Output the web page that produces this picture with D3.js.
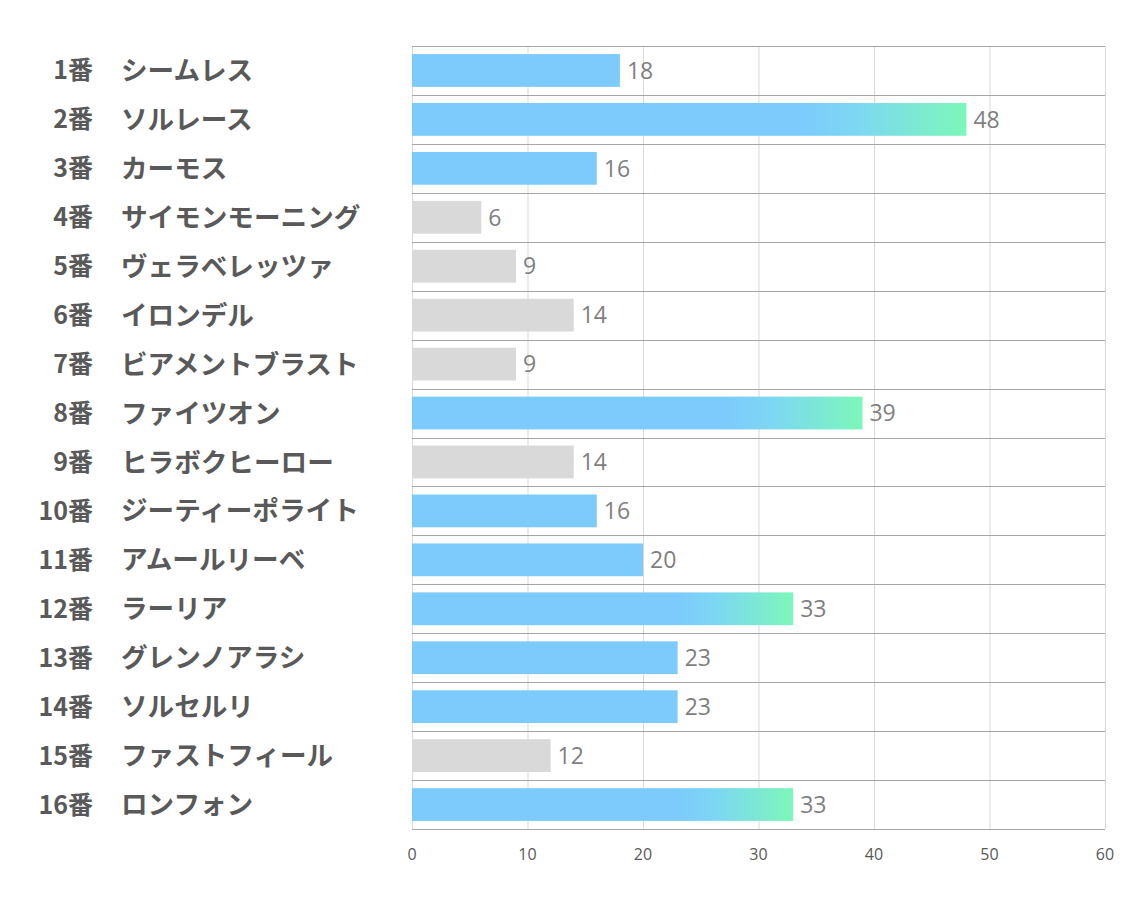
<!DOCTYPE html>
<html>
<head>
  <meta charset="utf-8">
  <script src="https://cdn.jsdelivr.net/npm/d3@7"></script>
  <style>
    body { margin: 0; background: #fff; }
  </style>
</head>
<body>
  <svg width="1134" height="907" id="mainsvg"></svg>
  <script>
    const numbers = ['1番', '2番', '3番', '4番', '5番', '6番', '7番', '8番', '9番', '10番', '11番', '12番', '13番', '14番', '15番', '16番'];
    const horses = ['シームレス', 'ソルレース', 'カーモス', 'サイモンモーニング', 'ヴェラベレッツァ', 'イロンデル', 'ビアメントブラスト', 'ファイツオン', 'ヒラボクヒーロー', 'ジーティーポライト', 'アムールリーベ', 'ラーリア', 'グレンノアラシ', 'ソルセルリ', 'ファストフィール', 'ロンフォン'];
    const values = [18, 48, 16, 6, 9, 14, 9, 39, 14, 16, 20, 33, 23, 23, 12, 33];
    const ticks = [0, 10, 20, 30, 40, 50, 60];

    const svg = d3.select('svg');
    const margin = {top: 46, right: 29, bottom: 78, left: 412};
    const width = +svg.attr('width');
    const height = +svg.attr('height');
    const innerWidth = width - margin.left - margin.right;
    const innerHeight = height - margin.top - margin.bottom;

    const data = numbers.map((n, i) => ({num: n, name: horses[i], value: values[i]}));

    const x = d3.scaleLinear().domain([0, 60]).range([0, innerWidth]);
    const y = d3.scaleBand().domain(numbers).range([0, innerHeight]).paddingInner(0.33).paddingOuter(0.165);
    const step = y.step();

    const defs = svg.append('defs');
    const grad = defs.append('linearGradient').attr('id', 'grad')
      .attr('x1', '0%').attr('x2', '100%').attr('y1', '0%').attr('y2', '0%');
    grad.append('stop').attr('offset', '0%').attr('stop-color', '#7ccbfc');
    grad.append('stop').attr('offset', '70%').attr('stop-color', '#7ccbfc');
    grad.append('stop').attr('offset', '80%').attr('stop-color', '#7dd7f3');
    grad.append('stop').attr('offset', '100%').attr('stop-color', '#7cf7b9');

    const g = svg.append('g').attr('transform', `translate(${margin.left},${margin.top})`);

    // vertical grid
    g.append('g').selectAll('line').data(ticks).join('line')
      .attr('x1', d => x(d) + 0.5).attr('x2', d => x(d) + 0.5)
      .attr('y1', 0).attr('y2', innerHeight)
      .attr('stroke', '#d9d9d9').attr('stroke-width', 1);

    // horizontal row separators
    const rows = d3.range(numbers.length + 1);
    g.append('g').selectAll('line').data(rows).join('line')
      .attr('x1', 0).attr('x2', innerWidth)
      .attr('y1', d => Math.round(d * step) + 0.5).attr('y2', d => Math.round(d * step) + 0.5)
      .attr('stroke', '#a6a6a6').attr('stroke-width', 1);

    // bars
    g.append('g').selectAll('rect').data(data).join('rect')
      .attr('x', 0)
      .attr('y', d => y(d.num))
      .attr('width', d => x(d.value))
      .attr('height', y.bandwidth())
      .attr('fill', d => d.value >= 30 ? 'url(#grad)' : (d.value >= 15 ? '#7ccbfc' : '#d9d9d9'));

    // value labels
    g.append('g').selectAll('text').data(data).join('text')
      .attr('x', d => x(d.value) + 7)
      .attr('y', d => y(d.num) + y.bandwidth() / 2)
      .attr('dy', '0.36em')
      .attr('font-family', '"Open Sans", "Noto Sans", sans-serif')
      .attr('font-size', 23)
      .attr('fill', '#7f7f7f')
      .text(d => d.value);

    // x axis labels
    g.append('g').selectAll('text').data(ticks).join('text')
      .attr('x', d => x(d))
      .attr('y', innerHeight + 25)
      .attr('dy', '0.35em')
      .attr('text-anchor', 'middle')
      .attr('font-family', '"Open Sans", "Noto Sans", sans-serif')
      .attr('font-size', 16)
      .attr('fill', '#595959')
      .text(d => d);

    // category labels
    const lab = svg.append('g').attr('transform', `translate(0,${margin.top})`);
    lab.selectAll('.num').data(data).join('text')
      .attr('class', 'num')
      .attr('x', 93)
      .attr('y', d => y(d.num) + y.bandwidth() / 2)
      .attr('dy', '0.36em')
      .attr('text-anchor', 'end')
      .attr('font-family', '"Noto Sans CJK JP", sans-serif')
      .attr('font-weight', 'bold')
      .attr('font-size', 25)
      .attr('fill', '#595959')
      .text(d => d.num);
    lab.selectAll('.name').data(data).join('text')
      .attr('class', 'name')
      .attr('x', 121)
      .attr('y', d => y(d.num) + y.bandwidth() / 2)
      .attr('dy', '0.36em')
      .attr('font-family', '"Noto Sans CJK JP", sans-serif')
      .attr('font-weight', 'bold')
      .attr('font-size', 26.6)
      .attr('fill', '#595959')
      .text(d => d.name);
  </script>
</body>
</html>
